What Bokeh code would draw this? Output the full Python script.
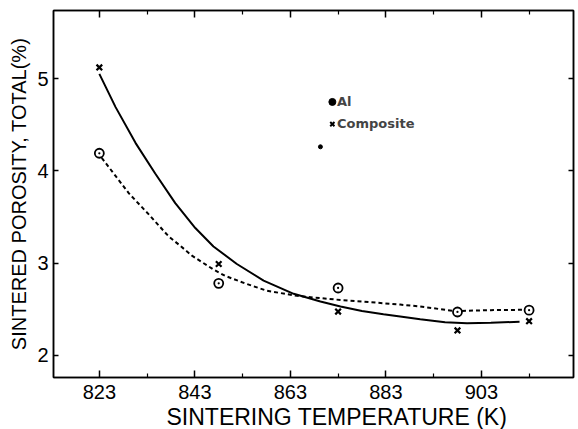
from bokeh.plotting import figure
from bokeh.models import FixedTicker, LinearAxis, Range1d, Legend, LegendItem, Title
from bokeh.embed import file_html
from bokeh.resources import INLINE

# ---- data ----
temp_K = [823, 848, 873, 898, 913]
al_porosity = [4.19, 2.78, 2.73, 2.47, 2.49]
composite_porosity = [5.12, 2.99, 2.475, 2.27, 2.37]

# fitted curves
composite_curve_T = [823.0, 826.4, 830.6, 834.7, 838.9, 843.1, 846.9, 851.8, 857.4, 863.7,
                     869.3, 873.5, 878.0, 882.5, 886.0, 890.2, 895.4, 900.0, 905.0, 911.0]
composite_curve_P = [5.05, 4.69, 4.30, 3.97, 3.65, 3.38, 3.18, 2.99, 2.81, 2.667,
                     2.584, 2.53, 2.48, 2.445, 2.42, 2.39, 2.36, 2.348, 2.352, 2.365]
al_curve_T = [823.5, 829.2, 833.3, 837.5, 840.0, 842.4, 846.9, 849.4, 853.5, 858.1,
              864.4, 869.3, 873.5, 880.0, 886.0, 890.0, 897.5, 905.0, 912.2]
al_curve_P = [4.14, 3.755, 3.53, 3.29, 3.185, 3.08, 2.93, 2.86, 2.78, 2.70,
              2.645, 2.62, 2.60, 2.575, 2.55, 2.53, 2.48, 2.49, 2.494]

speck_T = [869.3]
speck_P = [4.26]

# legend key marks as printed inside the plot
legend_key_T = [871.8, 871.8]
legend_key_P = [4.746, 4.505]

x_ticks = [823, 843, 863, 883, 903]
x_minor_ticks = [833, 853, 873, 893, 913]
y_ticks = [2, 3, 4, 5]

FONT = "Liberation Sans"

p = figure(width=578, height=429, output_backend="svg", toolbar_location=None,
           x_range=Range1d(813.4, 922.3), y_range=Range1d(1.76, 5.737),
           min_border_left=53, min_border_right=5, min_border_top=10, min_border_bottom=51,
           background_fill_color="white", border_fill_color="white")
p.grid.visible = False
p.outline_line_color = "black"
p.outline_line_width = 1.5

# bottom axis
xa = p.xaxis[0]
xa.ticker = FixedTicker(ticks=x_ticks, minor_ticks=x_minor_ticks)
xa.axis_line_width = 1.5
xa.major_tick_in = 7
xa.major_tick_out = 0
xa.minor_tick_in = 4
xa.minor_tick_out = 0
xa.major_tick_line_width = 1.5
xa.minor_tick_line_width = 1.2
xa.major_label_text_font = FONT
xa.major_label_text_font_size = "20px"
xa.major_label_text_color = "black"
xa.major_label_standoff = 7
xa.axis_label_standoff = 0

# left axis
ya = p.yaxis[0]
ya.ticker = FixedTicker(ticks=y_ticks)
ya.axis_line_width = 1.5
ya.major_tick_in = 5
ya.major_tick_out = 0
ya.major_tick_line_width = 1.5
ya.minor_tick_line_color = None
ya.major_label_text_font = FONT
ya.major_label_text_font_size = "20px"
ya.major_label_text_color = "black"
ya.major_label_standoff = 5
ya.axis_label = "SINTERED POROSITY, TOTAL(%)"
ya.axis_label_text_font = FONT
ya.axis_label_text_font_size = "20px"
ya.axis_label_text_font_style = "normal"
ya.axis_label_text_color = "black"
ya.axis_label_standoff = 4

# top axis (ticks only)
top = LinearAxis(ticker=FixedTicker(ticks=x_ticks, minor_ticks=x_minor_ticks),
                 major_tick_in=7, major_tick_out=0, minor_tick_in=4, minor_tick_out=0,
                 major_tick_line_width=1.5, minor_tick_line_width=1.2,
                 axis_line_width=1.5, major_label_text_font_size="0px",
                 major_label_standoff=0)
p.add_layout(top, "above")

# right axis (ticks only)
right = LinearAxis(ticker=FixedTicker(ticks=y_ticks),
                   major_tick_in=5, major_tick_out=0, minor_tick_line_color=None,
                   major_tick_line_width=1.5, axis_line_width=1.5,
                   major_label_text_font_size="0px", major_label_standoff=0)
p.add_layout(right, "right")

# x axis title (placed as in the reference, slightly right of centre)
xtitle = Title(text="SINTERING TEMPERATURE (K)", align="left", offset=113,
               text_font=FONT, text_font_size="23px", text_font_style="normal",
               text_color="black", standoff=0)
p.add_layout(xtitle, "below")

# curves
p.line(composite_curve_T, composite_curve_P, line_color="black", line_width=2)
p.line(al_curve_T, al_curve_P, line_color="black", line_width=2, line_dash="4 3")

# points
p.scatter(temp_K, composite_porosity, marker="x", size=8, line_color="black", line_width=2.2)
p.scatter(temp_K, al_porosity, marker="circle_dot", size=9, line_color="black",
          fill_color="white", line_width=1.8)
p.scatter(speck_T, speck_P, marker="circle", size=4, color="black")

# legend keys drawn in place; legend holds the labels
p.scatter(legend_key_T[:1], legend_key_P[:1], marker="circle", size=7, color="black")
p.scatter(legend_key_T[1:], legend_key_P[1:], marker="x", size=6, line_color="black",
          line_width=2)
leg_al = p.scatter(x=[], y=[], marker="circle", color="black")
leg_c = p.scatter(x=[], y=[], marker="x", line_color="black")
legend = Legend(items=[LegendItem(label="Al", renderers=[leg_al]),
                       LegendItem(label="Composite", renderers=[leg_c])],
                location=(276, 245), border_line_color=None, background_fill_alpha=0,
                label_text_font="DejaVu Sans", label_text_font_size="13px",
                label_text_font_style="bold", glyph_width=8, glyph_height=18,
                label_height=16, label_standoff=0, spacing=4, padding=0, margin=0)
p.add_layout(legend)

open("out.html", "w").write(file_html(p, INLINE))
